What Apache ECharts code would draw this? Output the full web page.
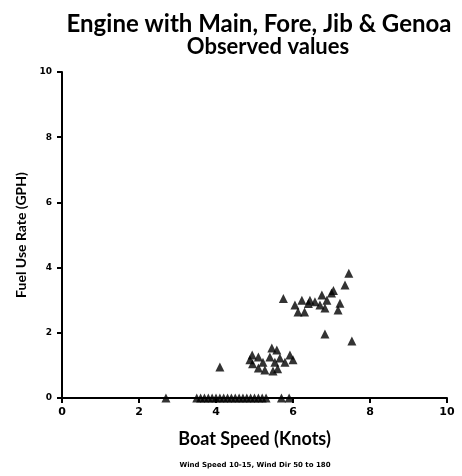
<!DOCTYPE html>
<html>
<head>
<meta charset="utf-8">
<script src="https://cdn.jsdelivr.net/npm/echarts@6/dist/echarts.min.js"></script>
<style>
  html, body { margin: 0; padding: 0; background: #fff; }
  #chart { width: 462px; height: 476px; }
</style>
</head>
<body>
<div id="chart"></div>
<script>
// 观测数据 (船速, 油耗)
var speed = [
  4.1, 5.75, 7.45, 7.35, 7.05, 7.0, 7.22, 7.17, 6.83, 7.53,
  6.05, 6.23, 6.13, 6.3, 6.44, 6.57, 6.75, 6.83, 6.4, 6.7, 6.88,
  4.94, 4.88, 5.1, 5.22, 5.45, 5.58, 5.4, 5.66, 5.92, 6.0, 5.79,
  5.1, 5.27, 5.48, 5.6, 4.95, 5.53,
  2.7, 3.5, 3.6, 3.7, 3.8, 3.9, 4.0, 4.1, 4.2, 4.3, 4.4, 4.5,
  4.6, 4.7, 4.8, 4.9, 5.0, 5.1, 5.2, 5.3, 5.7, 5.9
];
var fuel = [
  0.95, 3.05, 3.83, 3.47, 3.3, 3.22, 2.91, 2.7, 1.96, 1.75,
  2.85, 3.0, 2.64, 2.64, 3.0, 2.95, 3.16, 2.76, 2.9, 2.85, 3.0,
  1.32, 1.17, 1.26, 1.1, 1.53, 1.47, 1.26, 1.23, 1.32, 1.17, 1.1,
  0.92, 0.86, 0.83, 0.9, 1.05, 1.1,
  0, 0, 0, 0, 0, 0, 0, 0, 0, 0, 0, 0,
  0, 0, 0, 0, 0, 0, 0, 0, 0, 0
];
var xTicks = [0, 2, 4, 6, 8, 10];
var yTicks = [0, 2, 4, 6, 8, 10];

var points = speed.map(function (s, i) { return [s, fuel[i]]; });

var myChart = echarts.init(document.getElementById('chart'));

var option = {
  backgroundColor: '#fff',
  animation: false,
  title: [{
    text: 'Engine with Main, Fore, Jib & Genoa',
    left: 254,
    top: 7,
    textAlign: 'center',
    textStyle: {
      fontFamily: 'Lato',
      fontSize: 24,
      fontWeight: 'bold',
      color: '#000'
    }
  }, {
    text: 'Observed values',
    left: 263,
    top: 31,
    textAlign: 'center',
    textStyle: {
      fontFamily: 'Lato',
      fontSize: 22,
      fontWeight: 'bold',
      color: '#000'
    }
  }, {
    text: 'Wind Speed 10-15, Wind Dir 50 to 180',
    left: 250,
    top: 457,
    textAlign: 'center',
    textStyle: {
      fontFamily: 'DejaVu Sans',
      fontSize: 7,
      fontWeight: 'bold',
      color: '#000'
    }
  }],
  grid: {
    left: 62,
    right: 15,
    top: 72,
    bottom: 78
  },
  xAxis: {
    type: 'value',
    min: 0,
    max: 10,
    interval: 2,
    name: 'Boat Speed (Knots)',
    nameLocation: 'middle',
    nameGap: 32,
    nameTextStyle: {
      fontFamily: 'Lato',
      fontSize: 18,
      fontWeight: 'bold',
      color: '#000'
    },
    axisLine: { lineStyle: { color: '#000', width: 2 } },
    axisTick: { show: true, length: 5, lineStyle: { color: '#000', width: 2 } },
    axisLabel: {
      color: '#000',
      fontFamily: 'DejaVu Sans',
      fontSize: 11,
      fontWeight: 'bold',
      margin: 9,
      formatter: function (v) { return xTicks.indexOf(v) >= 0 ? String(v) : ''; }
    },
    splitLine: { show: false }
  },
  yAxis: {
    type: 'value',
    min: 0,
    max: 10,
    interval: 2,
    name: 'Fuel Use Rate (GPH)',
    nameLocation: 'middle',
    nameGap: 30,
    nameTextStyle: {
      fontFamily: 'Lato',
      fontSize: 14,
      fontWeight: 'bold',
      color: '#000'
    },
    axisLine: { lineStyle: { color: '#000', width: 2 } },
    axisTick: { show: true, length: 5, lineStyle: { color: '#000', width: 2 } },
    axisLabel: {
      color: '#000',
      fontFamily: 'DejaVu Sans',
      fontSize: 9,
      fontWeight: 'bold',
      margin: 10,
      formatter: function (v) { return yTicks.indexOf(v) >= 0 ? String(v) : ''; }
    },
    splitLine: { show: false }
  },
  series: [{
    type: 'scatter',
    data: points,
    symbol: 'triangle',
    symbolSize: 9,
    itemStyle: { color: '#000' }
  }]
};

myChart.setOption(option);
</script>
</body>
</html>
